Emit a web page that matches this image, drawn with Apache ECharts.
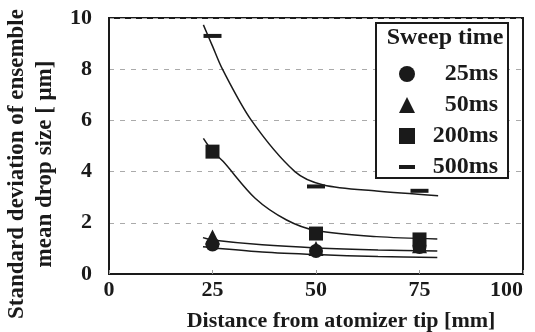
<!DOCTYPE html>
<html>
<head>
<meta charset="utf-8">
<script src="https://cdn.jsdelivr.net/npm/echarts@6/dist/echarts.min.js"></script>
<style>
  html, body { margin: 0; padding: 0; background: #fff; }
  #chart { width: 535px; height: 332px; }
</style>
</head>
<body>
<div id="chart"></div>
<script>
// Measurement positions along the spray axis [mm]
const distances = [25, 50, 75];

// Standard deviation of ensemble mean drop size [um] per sweep time
const sd25ms = [1.15, 0.9, 1.05];
const sd50ms = [1.45, 1.0, 1.1];
const sd200ms = [4.78, 1.58, 1.35];
const sd500ms = [9.3, 3.42, 3.25];

// Fitted trend curves: [distance, value] pairs
const fit25ms = [[22.7, 1.06], [25, 1.02], [37, 0.86], [50, 0.76], [65, 0.68], [79.3, 0.64]];
const fit50ms = [[22.7, 1.42], [25, 1.33], [37, 1.14], [50, 1.02], [65, 0.94], [79.3, 0.9]];
const fit200ms = [[22.8, 5.3], [25, 4.8], [27.6, 4.39], [35.3, 2.96], [42.9, 2.11], [50, 1.7], [64.6, 1.46], [79.3, 1.37]];
const fit500ms = [[22.8, 9.73], [25, 8.9], [27.4, 8.0], [34.4, 6.0], [44.9, 4.0], [51.8, 3.48], [64.6, 3.24], [79.5, 3.06]];

const seriesNames = ['25ms', '50ms', '200ms', '500ms'];
const xTicks = [0, 25, 50, 75, 100];
const yTicks = [0, 2, 4, 6, 8, 10];

const serif = '"Liberation Serif", "DejaVu Serif", serif';
const ink = '#1a1a1a';
const dashPath = 'path://M0,0 L20,0 L20,5 L0,5 Z';

function pairs(values) {
  return distances.map((d, i) => [d, values[i]]);
}

function fitLine(name, data) {
  return {
    name: name + ' fit',
    type: 'line',
    data: data,
    smooth: 0.3,
    showSymbol: false,
    symbol: 'none',
    silent: true,
    lineStyle: { color: ink, width: 1.5 },
    z: 3
  };
}

function markers(name, values, symbol, size, z) {
  return {
    name: name,
    type: 'scatter',
    data: pairs(values),
    symbol: symbol,
    symbolSize: size,
    itemStyle: { color: ink, opacity: 1 },
    z: z
  };
}

const chart = echarts.init(document.getElementById('chart'), null, { renderer: 'canvas' });

chart.setOption({
  animation: false,
  backgroundColor: '#ffffff',
  grid: {
    left: 109, right: 12, top: 18, bottom: 58,
    outerBoundsMode: 'none',
    containLabel: false,
    show: true, borderColor: ink, borderWidth: 2, backgroundColor: 'transparent'
  },
  xAxis: {
    type: 'value',
    min: xTicks[0],
    max: xTicks[xTicks.length - 1],
    interval: 25,
    name: 'Distance from atomizer tip [mm]',
    nameLocation: 'middle',
    nameGap: 36,
    nameTextStyle: { fontFamily: serif, fontWeight: 'bold', fontSize: 22, color: ink, padding: [0, 0, 0, 50] },
    axisLine: { show: true, lineStyle: { color: ink, width: 2 } },
    axisTick: { show: true, inside: true, length: 4, lineStyle: { color: '#999' } },
    axisLabel: { fontFamily: serif, fontWeight: 'bold', fontSize: 22, color: ink, margin: 5, alignMaxLabel: 'right' },
    splitLine: { show: false }
  },
  yAxis: {
    type: 'value',
    min: yTicks[0],
    max: yTicks[yTicks.length - 1],
    interval: 2,
    name: 'Standard deviation of ensemble\nmean drop size [ \u03bcm]',
    nameLocation: 'middle',
    nameRotate: 90,
    nameGap: 45,
    nameTextStyle: { fontFamily: serif, fontWeight: 'bold', fontSize: 23, color: ink, lineHeight: 28, padding: [0, 36, 0, 0] },
    axisLine: { show: true, lineStyle: { color: ink, width: 2 } },
    axisTick: { show: false },
    axisLabel: { fontFamily: serif, fontWeight: 'bold', fontSize: 22, color: ink, margin: 17 },
    splitLine: { show: true, lineStyle: { color: '#aaaaaa', type: [5, 6], width: 1 } }
  },
  legend: {
    orient: 'vertical',
    left: 394,
    top: 57,
    z: 10,
    itemWidth: 16,
    itemHeight: 16,
    itemGap: 7,
    selectedMode: false,
    data: [
      { name: '25ms', icon: 'circle' },
      { name: '50ms', icon: 'triangle' },
      { name: '200ms', icon: 'rect' },
      { name: '500ms', icon: dashPath }
    ],
    formatter: '{t|{name}}',
    textStyle: {
      rich: { t: { width: 78, lineHeight: 24, align: 'right', fontFamily: serif, fontWeight: 'bold', fontSize: 24, color: ink } }
    }
  },
  graphic: [
    {
      type: 'rect',
      shape: { x: 376, y: 23, width: 132, height: 155 },
      style: { fill: '#fff', stroke: ink, lineWidth: 2 },
      z: 5
    },
    {
      type: 'text',
      x: 445,
      y: 38,
      style: { text: 'Sweep time', fontFamily: serif, fontWeight: 'bold', fontSize: 24, fill: ink, align: 'center', verticalAlign: 'middle' },
      z: 6
    }
  ],
  series: [
    fitLine('25ms', fit25ms),
    fitLine('50ms', fit50ms),
    fitLine('200ms', fit200ms),
    fitLine('500ms', fit500ms),
    markers('25ms', sd25ms, 'circle', 14, 4),
    markers('50ms', sd50ms, 'triangle', 15, 5),
    markers('200ms', sd200ms, 'rect', 14, 4),
    markers('500ms', sd500ms, dashPath, [18, 4], 4)
  ]
});
</script>
</body>
</html>
